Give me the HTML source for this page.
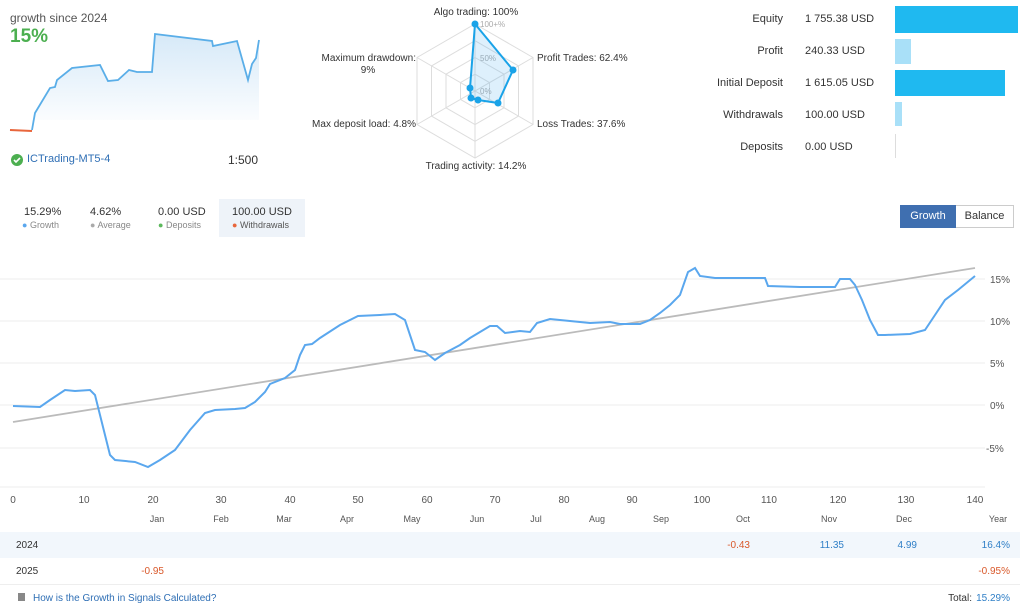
<!DOCTYPE html><html><head><meta charset="utf-8"><style>
body{margin:0;width:1024px;height:610px;background:#fff;font-family:"Liberation Sans",sans-serif;color:#333;position:relative;overflow:hidden}
.a{position:absolute;white-space:nowrap}
</style></head><body>
<div class="a" style="left:10px;top:11px;font-size:12px;color:#555">growth since 2024</div>
<div class="a" style="left:10px;top:26px;font-size:19px;font-weight:bold;color:#4caf50">15%</div>
<svg class="a" style="left:0;top:0" width="1024" height="610">
<defs><linearGradient id="g" x1="0" y1="0" x2="0" y2="1"><stop offset="0" stop-color="#d6e9f8"/><stop offset="1" stop-color="#fff"/></linearGradient></defs>
<path d="M32,130 L35,113 L50,88 L55,87 L57,80 L72,68 L100,65 L108,81 L118,80 L129,70 L137,72 L152,72 L155,34 L212,41 L213,46 L237,41 L248,80 L252,64 L256,58 L259,40 L259,120 L32,120Z" fill="url(#g)"/>
<polyline points="10,130 32,131" fill="none" stroke="#e8663c" stroke-width="2"/>
<polyline points="32,130 35,113 50,88 55,87 57,80 72,68 100,65 108,81 118,80 129,70 137,72 152,72 155,34 212,41 213,46 237,41 248,80 252,64 256,58 259,40" fill="none" stroke="#5aaee8" stroke-width="1.8"/>
<circle cx="17" cy="160" r="6" fill="#4caf50"/><path d="M14,160 l2,2 l4,-4" stroke="#fff" stroke-width="1.6" fill="none"/>
<g fill="none" stroke="#ddd">
<polygon points="475,24 533,57.5 533,124.5 475,158 417,124.5 417,57.5"/>
<polygon points="475,40.7 518.5,65.9 518.5,116.1 475,141.3 431.5,116.1 431.5,65.9"/>
<polygon points="475,57.5 504,74.2 504,107.8 475,124.5 446,107.8 446,74.2"/>
<polygon points="475,74.2 489.5,82.6 489.5,99.4 475,107.8 460.5,99.4 460.5,82.6"/>
<line x1="475" y1="24" x2="475" y2="158"/><line x1="417" y1="57.5" x2="533" y2="124.5"/><line x1="417" y1="124.5" x2="533" y2="57.5"/>
</g>
<text x="480" y="27" font-size="8" fill="#aaa">100+%</text><text x="480" y="61" font-size="8" fill="#aaa">50%</text><text x="480" y="94" font-size="8" fill="#aaa">0%</text>
<polygon points="475,24 513,70 498,103 478,100 471,98 470,88" fill="rgba(90,180,240,0.2)" stroke="#1aa3e8" stroke-width="2"/>
<g fill="#1aa3e8"><circle cx="475" cy="24" r="3.5"/><circle cx="513" cy="70" r="3.5"/><circle cx="498" cy="103" r="3.5"/><circle cx="478" cy="100" r="3.5"/><circle cx="471" cy="98" r="3.5"/><circle cx="470" cy="88" r="3.5"/></g>
<g font-size="10" fill="#333">
<text x="476" y="15" text-anchor="middle">Algo trading: 100%</text>
<text x="537" y="61">Profit Trades: 62.4%</text>
<text x="537" y="127">Loss Trades: 37.6%</text>
<text x="476" y="169" text-anchor="middle">Trading activity: 14.2%</text>
<text x="416" y="127" text-anchor="end">Max deposit load: 4.8%</text>
<text x="416" y="61" text-anchor="end">Maximum drawdown:</text>
<text x="368" y="73" text-anchor="middle">9%</text>
</g>
<g font-size="11" fill="#333">
<text x="783" y="22" text-anchor="end">Equity</text><text x="805" y="22">1 755.38 USD</text>
<text x="783" y="54" text-anchor="end">Profit</text><text x="805" y="54">240.33 USD</text>
<text x="783" y="86" text-anchor="end">Initial Deposit</text><text x="805" y="86">1 615.05 USD</text>
<text x="783" y="118" text-anchor="end">Withdrawals</text><text x="805" y="118">100.00 USD</text>
<text x="783" y="150" text-anchor="end">Deposits</text><text x="805" y="150">0.00 USD</text>
</g>
<rect x="895" y="6" width="123" height="27" fill="#1fb9f0"/>
<rect x="895" y="39" width="16" height="25" fill="#a9e0f8"/>
<rect x="895" y="70" width="110" height="26" fill="#1fb9f0"/>
<rect x="895" y="102" width="7" height="24" fill="#a9e0f8"/>
<line x1="895.5" y1="134" x2="895.5" y2="158" stroke="#ddd"/>
<g stroke="#eee"><line x1="0" y1="279" x2="985" y2="279"/><line x1="0" y1="321" x2="985" y2="321"/><line x1="0" y1="363" x2="985" y2="363"/><line x1="0" y1="405" x2="985" y2="405"/><line x1="0" y1="448" x2="985" y2="448"/><line x1="0" y1="487" x2="985" y2="487"/></g>
<g font-size="10" fill="#555"><text x="990" y="283">15%</text><text x="990" y="325">10%</text><text x="990" y="367">5%</text><text x="990" y="409">0%</text><text x="986" y="452">-5%</text></g>
<line x1="13" y1="422" x2="975" y2="268" stroke="#bbb" stroke-width="1.8"/>
<polyline fill="none" stroke="#5aa7ee" stroke-width="2" points="13,406 40,407 50,400 65,390 75,391 90,390 95,395 100,415 110,455 115,460 135,462 148,467 160,460 175,450 190,430 205,413 215,410 235,409 245,408 255,402 265,392 270,384 285,378 295,370 300,355 305,345 312,344 320,338 340,325 358,316 380,315 395,314 405,320 415,350 425,352 435,360 445,353 460,345 470,338 480,332 490,326 497,326 505,333 520,331 530,332 537,323 550,319 570,321 590,323 610,322 620,324 640,324 650,320 660,313 670,305 680,295 688,272 695,268 700,276 715,278 740,278 765,278 768,286 800,287 835,287 840,279 850,279 855,285 862,300 870,320 878,335 885,335 910,334 925,330 935,315 945,300 958,290 975,276"/>
<g font-size="10" fill="#555" text-anchor="middle">
<text x="13" y="503">0</text><text x="84" y="503">10</text><text x="153" y="503">20</text><text x="221" y="503">30</text><text x="290" y="503">40</text><text x="358" y="503">50</text><text x="427" y="503">60</text><text x="495" y="503">70</text><text x="564" y="503">80</text><text x="632" y="503">90</text><text x="702" y="503">100</text><text x="769" y="503">110</text><text x="838" y="503">120</text><text x="906" y="503">130</text><text x="975" y="503">140</text>
<g font-size="9"><text x="157" y="522">Jan</text><text x="221" y="522">Feb</text><text x="284" y="522">Mar</text><text x="347" y="522">Apr</text><text x="412" y="522">May</text><text x="477" y="522">Jun</text><text x="536" y="522">Jul</text><text x="597" y="522">Aug</text><text x="661" y="522">Sep</text><text x="743" y="522">Oct</text><text x="829" y="522">Nov</text><text x="904" y="522">Dec</text><text x="998" y="522">Year</text></g>
</g>
<rect x="0" y="532" width="1020" height="26" fill="#f2f7fc"/>
<line x1="0" y1="584.5" x2="1020" y2="584.5" stroke="#eee"/>
<g font-size="10"><text x="16" y="548" fill="#333">2024</text><text x="16" y="574" fill="#333">2025</text>
<g text-anchor="end"><text x="750" y="548" fill="#d9592b">-0.43</text><text x="844" y="548" fill="#2f7fc7">11.35</text><text x="917" y="548" fill="#2f7fc7">4.99</text><text x="1010" y="548" fill="#2f7fc7">16.4%</text><text x="164" y="574" fill="#d9592b">-0.95</text><text x="1010" y="574" fill="#d9592b">-0.95%</text>
<text x="1010" y="601" fill="#2f7fc7">15.29%</text><text x="972" y="601" fill="#333">Total:</text></g>
<rect x="18" y="593" width="7" height="8" fill="#888"/><text x="33" y="601" fill="#2f6fb5">How is the Growth in Signals Calculated?</text></g>
</svg>
<div class="a" style="left:27px;top:153px;font-size:11px;color:#2f6fb5">ICTrading-MT5-4</div>
<div class="a" style="left:228px;top:153px;font-size:12px;color:#333">1:500</div>
<div class="a" style="left:219px;top:199px;width:86px;height:38px;background:#eef3f9"></div>
<div class="a" style="left:24px;top:206px;font-size:11px">15.29%</div>
<div class="a" style="left:22px;top:220px;font-size:9px;color:#888"><span style="color:#5aa7ee">●</span> Growth</div>
<div class="a" style="left:90px;top:206px;font-size:11px">4.62%</div>
<div class="a" style="left:90px;top:220px;font-size:9px;color:#888"><span style="color:#aaa">●</span> Average</div>
<div class="a" style="left:158px;top:206px;font-size:11px">0.00 USD</div>
<div class="a" style="left:158px;top:220px;font-size:9px;color:#888"><span style="color:#5cb85c">●</span> Deposits</div>
<div class="a" style="left:232px;top:206px;font-size:11px">100.00 USD</div>
<div class="a" style="left:232px;top:220px;font-size:9px;color:#555"><span style="color:#e8663c">●</span> Withdrawals</div>
<div class="a" style="left:900px;top:205px;width:56px;height:23px;background:#3f6fb0;color:#fff;font-size:11px;text-align:center;line-height:23px">Growth</div>
<div class="a" style="left:956px;top:205px;width:57px;height:21px;border:1px solid #ccc;border-left:none;font-size:11px;text-align:center;line-height:21px">Balance</div>
</body></html>
